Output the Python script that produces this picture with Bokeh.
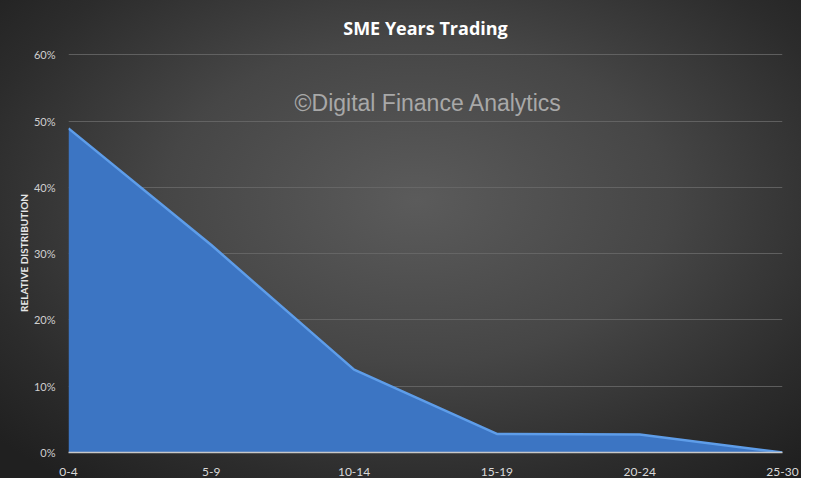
from bokeh.plotting import figure
from bokeh.models import Range1d, FixedTicker, PrintfTickFormatter, Label
from bokeh.embed import file_html
from bokeh.resources import INLINE

categories = ["0-4", "5-9", "10-14", "15-19", "20-24", "25-30"]
share_pct = [48.9, 31.3, 12.5, 2.8, 2.7, 0.0]
y_ticks = [0, 10, 20, 30, 40, 50, 60]
title_text = "SME Years Trading"
y_label = "RELATIVE DISTRIBUTION"
watermark = "\u00a9Digital Finance Analytics"

x = list(range(len(categories)))

p = figure(width=801, height=478, output_backend="svg", toolbar_location=None,
           x_range=Range1d(0, len(categories) - 1), y_range=Range1d(0, 60.2),
           min_border_left=68, min_border_right=19, min_border_top=53,
           min_border_bottom=20, title=title_text)

p.styles = {"background": "radial-gradient(ellipse 70% 75% at 52% 42%, #5b5b5b 0%, #464646 45%, #2c2c2c 80%, #202020 100%)"}
p.background_fill_color = None
p.border_fill_color = None
p.outline_line_color = None

p.title.text_color = "#ffffff"
p.title.text_font = "Open Sans"
p.title.text_font_size = "18px"
p.title.text_font_style = "bold"
p.title.align = "center"
p.title.vertical_align = "middle"
p.title.standoff = 26

# grid
p.xgrid.grid_line_color = None
p.ygrid.ticker = FixedTicker(ticks=y_ticks[1:])
p.ygrid.grid_line_color = "#6a6a6a"
p.ygrid.grid_line_alpha = 0.8
p.ygrid.grid_line_width = 1

# area
p.varea(x=x, y1=[0] * len(x), y2=share_pct, fill_color="#3c75c3")
p.line(x=x, y=share_pct, line_color="#5e9de9", line_width=2.5)

# axes
xa = p.xaxis[0]
xa.ticker = FixedTicker(ticks=x)
xa.major_label_overrides = {i: c for i, c in zip(x, categories)}
xa.axis_line_color = "#c8c8c8"
xa.axis_line_width = 1.5
xa.major_tick_line_color = None
xa.minor_tick_line_color = None
xa.major_label_text_color = "#d9d9d9"
xa.major_label_text_font = "Lato"
xa.major_label_text_font_size = "12px"
xa.major_label_standoff = 9

ya = p.yaxis[0]
ya.ticker = FixedTicker(ticks=y_ticks)
ya.formatter = PrintfTickFormatter(format="%d%%")
ya.axis_line_color = None
ya.major_tick_line_color = None
ya.minor_tick_line_color = None
ya.major_label_text_color = "#d0d0d0"
ya.major_label_text_font = "Lato"
ya.major_label_text_font_size = "11px"
ya.major_label_standoff = 7
ya.axis_label = y_label
ya.axis_label_text_color = "#e6e6e6"
ya.axis_label_text_font = "Lato"
ya.axis_label_text_font_size = "10px"
ya.axis_label_text_font_style = "bold"
ya.axis_label_standoff = 1

p.add_layout(Label(x=2.52, y=52.7, text=watermark, text_align="center",
                   text_baseline="middle", text_font="Liberation Sans",
                   text_font_size="23px", text_color="#a8a8a8"))

open("out.html", "w").write(file_html(p, INLINE))
